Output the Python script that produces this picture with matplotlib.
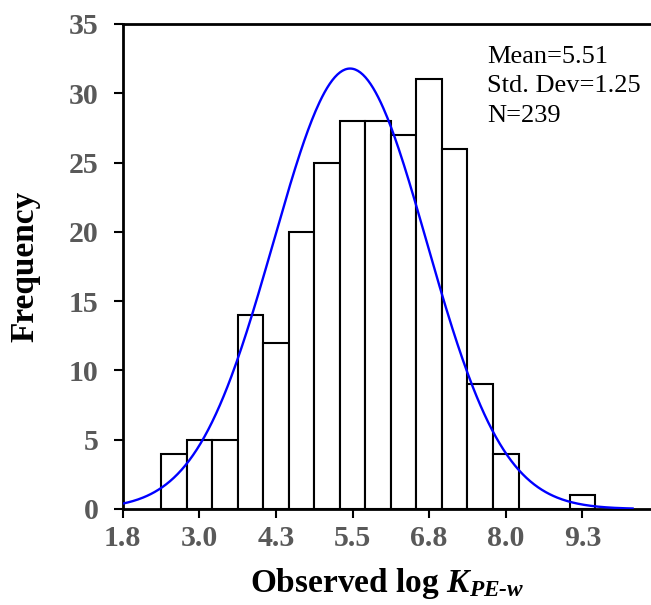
# histogram of observed log K(PE-w) with fitted normal curve

import numpy as np
import matplotlib
matplotlib.use("Agg")
import matplotlib.pyplot as plt

plt.rcParams["font.family"] = ["Liberation Serif", "DejaVu Serif"]
plt.rcParams["mathtext.fontset"] = "custom"
plt.rcParams["mathtext.rm"] = "Liberation Serif"
plt.rcParams["mathtext.it"] = "Liberation Serif:italic"
plt.rcParams["mathtext.bf"] = "Liberation Serif:bold"
plt.rcParams["mathtext.bfit"] = "Liberation Serif:bold:italic"

# histogram data
BIN_START = 2.425
BIN_WIDTH = 1.25 / 3
counts = [4, 5, 5, 14, 12, 20, 25, 28, 28, 27, 31, 26, 9, 4, 0, 0, 1]

MEAN = 5.51
STD = 1.25
N = 239

xticks = [1.8, 3.05, 4.3, 5.55, 6.8, 8.05, 9.3]
xtick_labels = ["1.8", "3.0", "4.3", "5.5", "6.8", "8.0", "9.3"]
yticks = [0, 5, 10, 15, 20, 25, 30, 35]

CURVE_START, CURVE_END = 1.8, 10.12
TICK_COLOR = "#595959"

fig = plt.figure(figsize=(6.51, 6.05), dpi=100)
ax = fig.add_axes([0.1885, 0.1587, 0.8115, 0.8017])

lefts = BIN_START + BIN_WIDTH * np.arange(len(counts))
ax.bar(lefts, counts, width=BIN_WIDTH, align="edge",
       facecolor="white", edgecolor="black", linewidth=1.5, zorder=2)

# normal curve scaled to histogram
xs = np.linspace(CURVE_START, CURVE_END, 400)
pdf = np.exp(-0.5 * ((xs - MEAN) / STD) ** 2) / (STD * np.sqrt(2 * np.pi))
ax.plot(xs, pdf * N * BIN_WIDTH, color="#0000FF", linewidth=1.7, zorder=3)

ax.set_xlim(1.8, 10.42)
ax.set_ylim(0, 35)
ax.set_xticks(xticks)
ax.set_xticklabels(xtick_labels)
ax.set_yticks(yticks)

ax.spines["right"].set_visible(False)
for s in ["left", "bottom", "top"]:
    ax.spines[s].set_linewidth(2.0)

ax.tick_params(axis="both", direction="out", length=6.5, width=1.5,
               labelsize=21.5, labelcolor=TICK_COLOR)
ax.tick_params(axis="x", pad=5)
ax.tick_params(axis="y", pad=11)
for lbl in ax.get_xticklabels() + ax.get_yticklabels():
    lbl.set_fontweight("bold")

ax.set_ylabel("Frequency", fontsize=24, fontweight="bold")
ax.yaxis.set_label_coords(-0.155, 0.5)
ax.set_xlabel("Observed log $\\mathbfit{K}_{\\mathbfit{PE\u2010w}}$",
              fontsize=24, fontweight="bold", labelpad=10)

ax.text(0.690, 0.955, f"Mean={MEAN:.2f}\nStd. Dev={STD:.2f}\nN={N}",
        transform=ax.transAxes, ha="left", va="top", fontsize=19,
        linespacing=1.45)

fig.savefig("out.png", dpi=100)
